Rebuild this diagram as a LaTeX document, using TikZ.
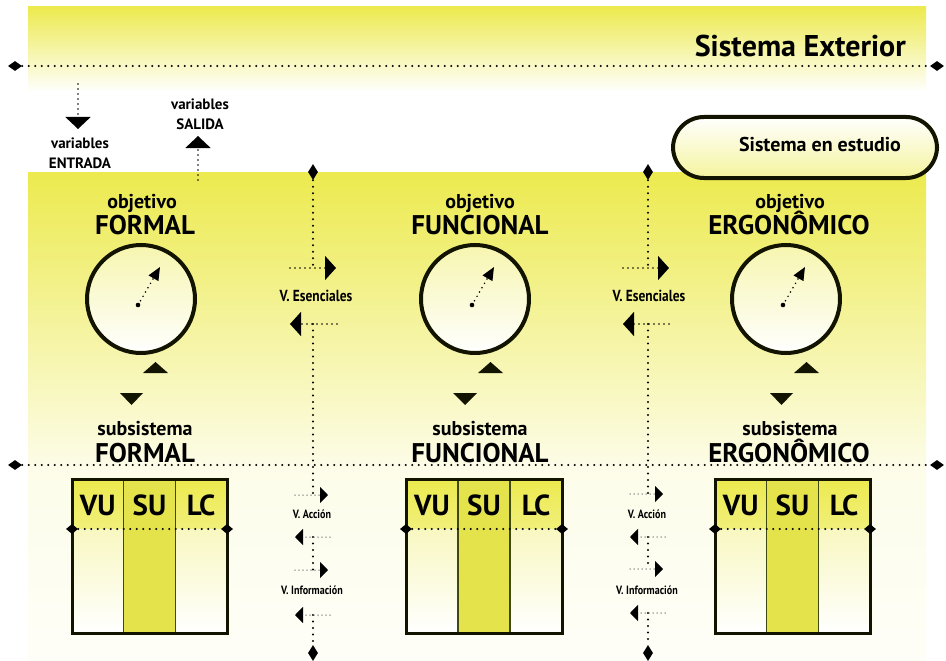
\documentclass[tikz,border=0pt]{standalone}
\usepackage{fontspec}
\setmainfont{PT Sans}
\newfontfamily\narrowfont[FakeStretch=0.84]{PT Sans}
\usetikzlibrary{arrows.meta,shapes.geometric}
\definecolor{lemon}{RGB}{236,234,78}
\definecolor{sucol}{RGB}{228,227,76}
\definecolor{rim}{RGB}{18,20,0}
\definecolor{olive}{RGB}{62,74,18}
\tikzset{
  dots/.style={line width=2.2pt,dash pattern=on 0pt off 6.5pt,line cap=round},
  sdots/.style={line width=1.7pt,dash pattern=on 0pt off 5pt,line cap=round},
  gdots/.style={black!55,line width=1.5pt,dash pattern=on 0pt off 4pt,line cap=round},
  tipH/.style={diamond,fill=black,inner sep=0pt,minimum width=14pt,minimum height=10pt},
  tipV/.style={diamond,fill=black,inner sep=0pt,minimum width=10pt,minimum height=16pt},
  tipS/.style={diamond,fill=black,inner sep=0pt,minimum width=12pt,minimum height=10pt},
  small/.style={font=\bfseries\fontsize{15}{15}\selectfont,anchor=base,inner sep=0pt},
  medium/.style={font=\bfseries\fontsize{20}{20}\selectfont,anchor=base,inner sep=0pt},
  large/.style={font=\bfseries\fontsize{27}{27}\selectfont,anchor=base,inner sep=0pt},
  cell/.style={font=\bfseries\fontsize{29}{29}\selectfont,anchor=base,inner sep=0pt},
  vesen/.style={font=\narrowfont\bfseries\fontsize{16}{16}\selectfont,anchor=base,inner sep=0pt},
  vsmall/.style={font=\narrowfont\bfseries\fontsize{12}{12}\selectfont,anchor=base,inner sep=0pt},
  goal/.style={circle,draw=rim,line width=4pt,minimum size=108pt,inner sep=0pt,top color=lemon!45,bottom color=white},
  bigtip/.style={-{Triangle[width=25pt,length=12pt]}},
  midtip/.style={-{Triangle[width=24pt,length=11pt]}},
  lowtip/.style={-{Triangle[width=16pt,length=8pt,color=black]}},
  intip/.style={-{Triangle[width=11pt,length=13pt]}}
}

\begin{document}
\begin{tikzpicture}[x=1pt,y=-1pt]
                \useasboundingbox (0,0) rectangle (946,661);
                \fill[white] (0,0) rectangle (946,661);
                \shade[top color=lemon,middle color=lemon!60,bottom color=white] (28,7) rectangle (926,92);
                \shade[top color=lemon,bottom color=lemon!12] (28,172) rectangle (926,470);
                \shade[top color=lemon!12,bottom color=lemon!4] (28,470) rectangle (926,661);

                \node[tipH] (extL) at (15,66) {};
                \node[tipH] (extR) at (937,66) {};
                \draw[dots] (extL) -- (extR);
                \node[font=\bfseries\fontsize{30}{30}\selectfont,anchor=base east,inner sep=0pt] (ext) at (906,57) {Sistema Exterior};

                \coordinate (entA) at (78,84);
                \coordinate (entB) at (78,129);
                \draw[sdots,bigtip] (entA) -- (entB);
                \node[small] (entV) at (80,149) {variables};
                \node[small] (entN) at (80,168) {ENTRADA};
                \coordinate (salA) at (198,180);
                \coordinate (salB) at (198,136);
                \draw[sdots,bigtip] (salA) -- (salB);
                \node[small] (salV) at (200,110) {variables};
                \node[small] (salN) at (200,129) {SALIDA};

                \node[draw=rim,line width=4pt,rounded corners=31pt,minimum width=264pt,minimum height=61pt,top color=white,bottom color=lemon!55] (est) at (805,147.5) {};
                \node[medium] (estT) at (820,151) {Sistema en estudio};

                \node[tipH] (subL) at (15,465) {};
                \node[tipH] (subR) at (937,465) {};
                \draw[dots] (subL) -- (subR);

                \node[tipV] (s1a) at (313,172) {};
                \node[tipV] (s1b) at (313,653) {};
                \coordinate (s1e1) at (313,268);
                \coordinate (s1e2) at (313,324);
                \coordinate (s1a1) at (313,495);
                \coordinate (s1a2) at (313,537);
                \coordinate (s1i1) at (313,570);
                \coordinate (s1i2) at (313,615);
                \draw[dots] (s1a) -- (s1e1);
                \draw[dots] (s1e2) -- (s1a1);
                \draw[dots] (s1a2) -- (s1i1);
                \draw[dots] (s1i2) -- (s1b);
                \draw[sdots,midtip] ([xshift=-23pt]s1e1) -- ([xshift=23pt]s1e1);
                \draw[sdots,midtip] ([xshift=24pt]s1e2) -- ([xshift=-23pt]s1e2);
                \node[vesen] (s1eT) at (316,301) {V. Esenciales};
                \draw[gdots,lowtip] ([xshift=-18pt]s1a1) -- ([xshift=15pt]s1a1);
                \draw[gdots,lowtip] ([xshift=17pt]s1a2) -- ([xshift=-18pt]s1a2);
                \node[vsmall] (s1aT) at (312,518) {V. Acción};
                \draw[gdots,lowtip] ([xshift=-18pt]s1i1) -- ([xshift=15pt]s1i1);
                \draw[gdots,lowtip] ([xshift=17pt]s1i2) -- ([xshift=-18pt]s1i2);
                \node[vsmall] (s1iT) at (312,594) {V. Información};

                \node[tipV] (s2a) at (648,172) {};
                \node[tipV] (s2b) at (648,653) {};
                \coordinate (s2e1) at (648,268);
                \coordinate (s2e2) at (648,324);
                \coordinate (s2a1) at (648,494);
                \coordinate (s2a2) at (648,537);
                \coordinate (s2i1) at (648,569);
                \coordinate (s2i2) at (648,613);
                \draw[dots] (s2a) -- (s2e1);
                \draw[dots] (s2e2) -- (s2a1);
                \draw[dots] (s2a2) -- (s2i1);
                \draw[dots] (s2i2) -- (s2b);
                \draw[sdots,midtip] ([xshift=-25pt]s2e1) -- ([xshift=21pt]s2e1);
                \draw[sdots,midtip] ([xshift=21pt]s2e2) -- ([xshift=-25pt]s2e2);
                \node[vesen] (s2eT) at (649,301) {V. Esenciales};
                \draw[gdots,lowtip] ([xshift=-18pt]s2a1) -- ([xshift=15pt]s2a1);
                \draw[gdots,lowtip] ([xshift=17pt]s2a2) -- ([xshift=-18pt]s2a2);
                \node[vsmall] (s2aT) at (647,518) {V. Acción};
                \draw[gdots,lowtip] ([xshift=-18pt]s2i1) -- ([xshift=15pt]s2i1);
                \draw[gdots,lowtip] ([xshift=17pt]s2i2) -- ([xshift=-18pt]s2i2);
                \node[vsmall] (s2iT) at (647,594) {V. Información};

                \node[medium] (objF) at (142,208) {objetivo};
                \node[large] (objFN) at (145,234) {FORMAL};
                \node[goal] (cirF) at (141,299) {};
                \coordinate (dotF) at (138,305);
                \coordinate (arwF) at (160,267);
                \fill (dotF) circle (2.3pt);
                \draw[sdots,intip] (dotF) -- (arwF);
                \fill[rim] (143,373) -- (168,373) -- (155.5,362) -- cycle;
                \fill[rim] (120,393) -- (143,393) -- (131.5,405) -- cycle;
                \node[medium] (subF) at (145,435) {subsistema};
                \node[large] (subFN) at (145,462) {FORMAL};

                \node[medium] (objU) at (480,208) {objetivo};
                \node[large] (objUN) at (480,234) {FUNCIONAL};
                \node[goal] (cirU) at (475,299) {};
                \coordinate (dotU) at (472,305);
                \coordinate (arwU) at (494,267);
                \fill (dotU) circle (2.3pt);
                \draw[sdots,intip] (dotU) -- (arwU);
                \fill[rim] (478,373) -- (503,373) -- (490.5,362) -- cycle;
                \fill[rim] (453,393) -- (477,393) -- (465,405) -- cycle;
                \node[medium] (subU) at (480,435) {subsistema};
                \node[large] (subUN) at (480,462) {FUNCIONAL};

                \node[medium] (objE) at (790,208) {objetivo};
                \node[large] (objEN) at (789,234) {ERGONÔMICO};
                \node[goal] (cirE) at (786,299) {};
                \coordinate (dotE) at (783,305);
                \coordinate (arwE) at (805,267);
                \fill (dotE) circle (2.3pt);
                \draw[sdots,intip] (dotE) -- (arwE);
                \fill[rim] (794,373) -- (819,373) -- (806.5,362) -- cycle;
                \fill[rim] (770,393) -- (793,393) -- (781.5,405) -- cycle;
                \node[medium] (subE) at (790,435) {subsistema};
                \node[large] (subEN) at (789,462) {ERGONÔMICO};

                \shade[top color=lemon,bottom color=lemon!75] (72,479) rectangle (227,529);
                \shade[top color=lemon!35,bottom color=white] (72,529) rectangle (227,633);
                \fill[sucol] (123.7,479) rectangle (175.3,633);
                \draw[olive,line width=1.5pt] (123.7,479) -- (123.7,633) (175.3,479) -- (175.3,633);
                \draw[rim,line width=3pt] (72,479) rectangle (227,633);
                \node[tipS] (bFl) at (72,529) {};
                \node[tipS] (bFr) at (227,529) {};
                \draw[dots] (bFl) -- (bFr);
                \node[cell] (vuF) at (97.8,515) {VU};
                \node[cell] (suF) at (149.5,515) {SU};
                \node[cell] (lcF) at (201.2,515) {LC};

                \shade[top color=lemon,bottom color=lemon!75] (406,479) rectangle (562,529);
                \shade[top color=lemon!35,bottom color=white] (406,529) rectangle (562,633);
                \fill[sucol] (458,479) rectangle (510,633);
                \draw[olive,line width=1.5pt] (458,479) -- (458,633) (510,479) -- (510,633);
                \draw[rim,line width=3pt] (406,479) rectangle (562,633);
                \node[tipS] (bUl) at (406,529) {};
                \node[tipS] (bUr) at (562,529) {};
                \draw[dots] (bUl) -- (bUr);
                \node[cell] (vuU) at (432,515) {VU};
                \node[cell] (suU) at (484,515) {SU};
                \node[cell] (lcU) at (536,515) {LC};

                \shade[top color=lemon,bottom color=lemon!75] (715,479) rectangle (870,529);
                \shade[top color=lemon!35,bottom color=white] (715,529) rectangle (870,633);
                \fill[sucol] (766.7,479) rectangle (818.3,633);
                \draw[olive,line width=1.5pt] (766.7,479) -- (766.7,633) (818.3,479) -- (818.3,633);
                \draw[rim,line width=3pt] (715,479) rectangle (870,633);
                \node[tipS] (bEl) at (715,529) {};
                \node[tipS] (bEr) at (870,529) {};
                \draw[dots] (bEl) -- (bEr);
                \node[cell] (vuE) at (740.8,515) {VU};
                \node[cell] (suE) at (792.5,515) {SU};
                \node[cell] (lcE) at (844.2,515) {LC};
            \end{tikzpicture}
\end{document}
